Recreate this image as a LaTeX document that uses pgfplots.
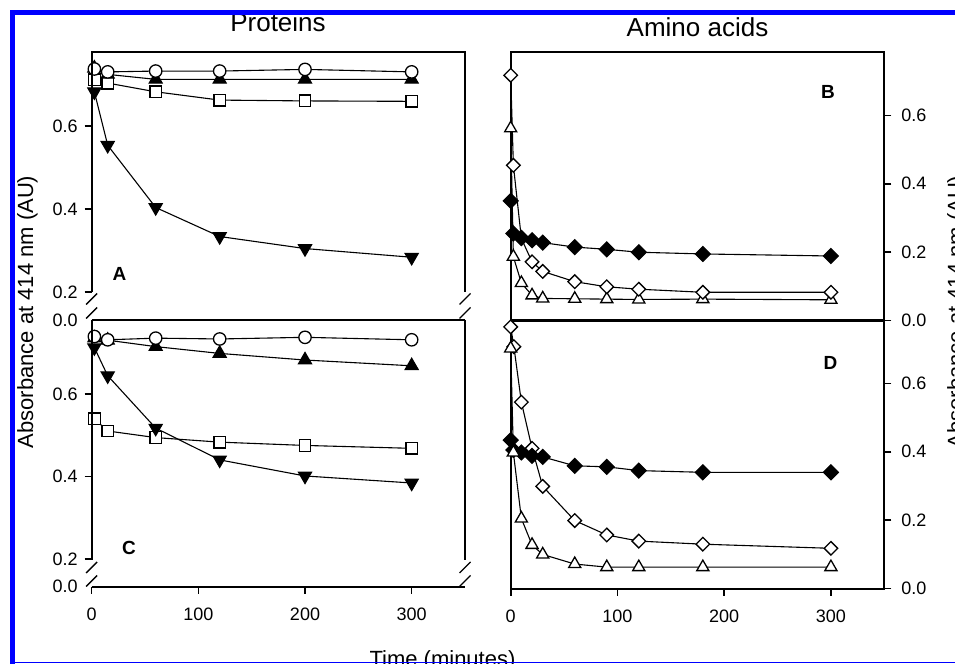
\documentclass[border=0pt]{standalone}
\usepackage{fontspec}
\setmainfont{Liberation Sans}
\usepackage{pgfplots}
\pgfplotsset{compat=1.18}
\definecolor{frameblue}{RGB}{0,0,255}

\pgfplotsset{
  panel/.style={scale only axis, anchor=south west, xmin=0, xmax=350, clip=false,
    tick align=outside, major tick length=3.5pt,
    tick style={line width=0.8pt, black},
    every tick label/.append style={font=\fontsize{9}{10}\selectfont},
    /pgf/number format/assume math mode=true,
    yticklabel style={/pgf/number format/fixed, /pgf/number format/fixed zerofill, /pgf/number format/precision=1},
    xticklabel style={yshift=-3.5pt},
  },
  leftpanel/.style={panel, ymin=0.1327, ymax=0.779, axis line style={draw=none},
    ytick={0.2,0.4,0.6}, ytick pos=left,
    extra y ticks={0.1327}, extra y tick labels={0.0},
    extra y tick style={major tick style={draw=none}}},
  rightpanel/.style={panel, ymin=0, ymax=0.785, axis line style={line width=0.9pt},
    ytick={0,0.2,0.4,0.6}, ytick pos=right, yticklabel pos=right,
    yticklabel style={xshift=1.5pt}},
  openc/.style={black, line width=0.55pt, mark=*, mark size=3.1pt, mark options={fill=white, line width=0.65pt}},
  filltri/.style={black, line width=0.55pt, mark=triangle*, mark size=3.8pt, mark options={fill=black}},
  filldtri/.style={black, line width=0.55pt, mark=triangle*, mark size=3.8pt, mark options={fill=black, rotate=180}},
  opensq/.style={black, line width=0.55pt, mark=square*, mark size=2.9pt, mark options={fill=white, line width=0.65pt}},
  filldia/.style={black, line width=0.55pt, mark=square*, mark size=2.65pt, mark options={fill=black, rotate=45}},
  opendia/.style={black, line width=0.55pt, mark=square*, mark size=2.4pt, mark options={fill=white, rotate=45, line width=0.65pt}},
  opentri/.style={black, line width=0.55pt, mark=triangle*, mark size=3.5pt, mark options={fill=white, line width=0.65pt}},
}

\begin{document}
\begin{tikzpicture}[x=0.5pt,y=0.5pt]
\useasboundingbox (0,0) rectangle (955,664);
\clip (0,0) rectangle (955,664);

% ---------- Panel A ----------
\begin{axis}[leftpanel, at={(45.85pt,172pt)}, width=186.65pt, height=134pt, xtick=\empty]
\addplot[filldtri] coordinates {(2.5,0.683) (15,0.554) (60,0.404) (120,0.334) (200,0.305) (300,0.284)};
\addplot[opensq] coordinates {(2.5,0.712) (15,0.704) (60,0.683) (120,0.663) (200,0.661) (300,0.660)};
\addplot[filltri] coordinates {(2.5,0.740) (15,0.725) (60,0.713) (120,0.713) (200,0.713) (300,0.713)};
\addplot[openc] coordinates {(2.5,0.738) (15,0.731) (60,0.733) (120,0.733) (200,0.737) (300,0.731)};
\end{axis}

% ---------- Panel C ----------
\begin{axis}[leftpanel, at={(45.85pt,38.65pt)}, width=186.65pt, height=133.35pt,
  xtick={0,100,200,300}, xtick pos=left]
\addplot[opensq] coordinates {(2.5,0.5395) (15,0.510) (60,0.494) (120,0.483) (200,0.475) (300,0.468)};
\addplot[filldtri] coordinates {(2.5,0.712) (15,0.644) (60,0.517) (120,0.440) (200,0.401) (300,0.384)};
\addplot[filltri] coordinates {(2.5,0.735) (15,0.730) (60,0.7145) (120,0.698) (200,0.682) (300,0.668)};
\addplot[openc] coordinates {(2.5,0.739) (15,0.731) (60,0.735) (120,0.733) (200,0.737) (300,0.731)};
\end{axis}

% ---------- Panel B ----------
\begin{axis}[rightpanel, at={(255.35pt,171.65pt)}, width=186.8pt, height=134.35pt, xtick=\empty]
\addplot[opentri] coordinates {(0,0.562) (2.5,0.187) (10,0.110) (20,0.074) (30,0.065) (60,0.064) (90,0.063) (120,0.062) (180,0.063) (300,0.061)};
\addplot[opendia] coordinates {(0,0.717) (2.5,0.454) (10,0.240) (20,0.172) (30,0.144) (60,0.114) (90,0.099) (120,0.092) (180,0.083) (300,0.083)};
\addplot[filldia] coordinates {(0,0.350) (2.5,0.255) (10,0.242) (20,0.235) (30,0.228) (60,0.215) (90,0.2085) (120,0.200) (180,0.195) (300,0.189)};
\end{axis}

% ---------- Panel D ----------
\begin{axis}[rightpanel, at={(255.35pt,37.65pt)}, width=186.8pt, height=134.35pt,
  xtick={0,100,200,300}, xtick pos=left]
\addplot[opendia] coordinates {(0,0.765) (3,0.707) (10,0.545) (20,0.410) (30,0.299) (60,0.199) (90,0.157) (120,0.139) (180,0.130) (300,0.118)};
\addplot[filldia] coordinates {(0,0.434) (2.5,0.405) (10,0.398) (20,0.388) (30,0.385) (60,0.359) (90,0.356) (120,0.345) (180,0.340) (300,0.340)};
\addplot[opentri] coordinates {(0,0.702) (2.5,0.398) (10,0.205) (20,0.128) (30,0.100) (60,0.072) (90,0.063) (120,0.063) (180,0.063) (300,0.063)};
\end{axis}

% ---------- broken frames of the left panels ----------
\begin{scope}[line width=0.9pt]
\draw (91.7,372.3) -- (91.7,612) -- (465,612) -- (465,372.3);
\draw (91.7,344) -- (465,344);
\draw (91.7,344) -- (91.7,104.3);
\draw (465,344) -- (465,104.3);
\draw (91.7,77.3) -- (465,77.3);
\end{scope}
\begin{scope}[line width=0.7pt]
\foreach \xx in {91.7,465}{
  \foreach \yy in {365,351,96.5,83}{
    \draw (\xx-5.5,\yy-5.5) -- (\xx+5.5,\yy+5.5);
  }
}
\end{scope}

% ---------- panel letters ----------
\begin{scope}[font=\bfseries\fontsize{9.5}{11}\selectfont]
\node[anchor=base] at (119.5,383) {A};
\node[anchor=base] at (828,565) {B};
\node[anchor=base] at (129,109) {C};
\node[anchor=base] at (830.5,294) {D};
\end{scope}

% ---------- titles and axis labels ----------
\node[anchor=base, font=\fontsize{13}{15}\selectfont] at (278,632.3) {Proteins};
\node[anchor=base, font=\fontsize{13}{15}\selectfont] at (697.5,627.3) {Amino acids};
\node[anchor=base, rotate=90, font=\fontsize{11}{12}\selectfont] at (33,352) {Absorbance at 414 nm (AU)};
\node[anchor=base, rotate=90, font=\fontsize{11}{12}\selectfont] at (963,352) {Absorbance at 414 nm (AU)};
\node[anchor=base, font=\fontsize{11}{12}\selectfont] at (442.5,-3) {Time (minutes)};

% ---------- blue frame ----------
\fill[frameblue] (10,0) rectangle (15,654);
\fill[frameblue] (10,649) rectangle (955,654);
\fill[frameblue] (10,0.5) rectangle (955,2);
\end{tikzpicture}
\end{document}
